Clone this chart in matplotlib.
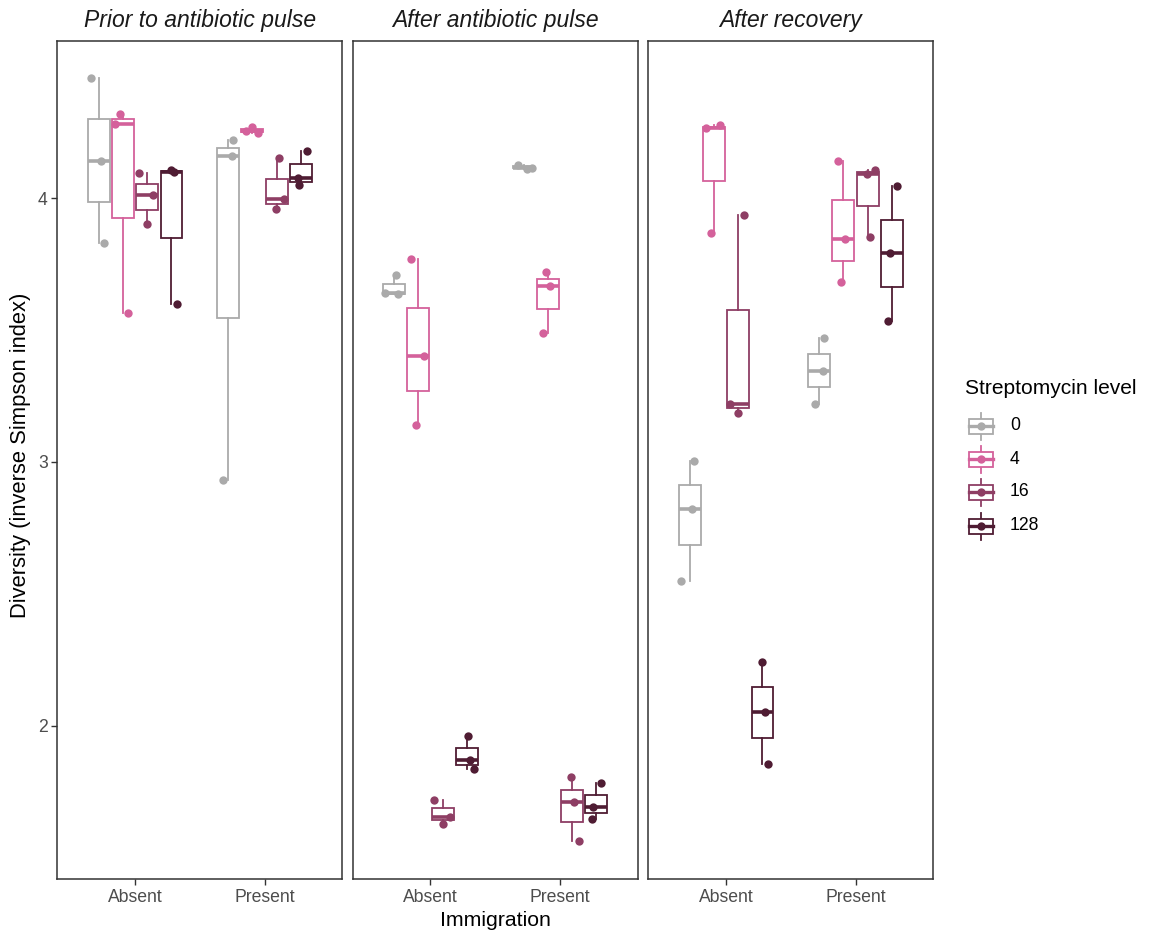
import matplotlib
matplotlib.use("Agg")
import matplotlib.pyplot as plt
from matplotlib.patches import Rectangle
from matplotlib.lines import Line2D
import numpy as np

plt.rcParams['font.family'] = ['Liberation Sans', 'DejaVu Sans']

panels = ["Prior to antibiotic pulse", "After antibiotic pulse", "After recovery"]
immigration = ["Absent", "Present"]
levels = ["0", "4", "16", "128"]
colors = ["#AAAAAA", "#D4619B", "#8E3E64", "#4F1C33"]

# values per panel: [immigration][level] -> 3 replicates
prior_absent = [[4.455, 4.14, 3.83], [4.32, 4.28, 3.565], [4.095, 4.01, 3.90], [4.105, 4.10, 3.60]]
prior_present = [[4.22, 4.16, 2.93], [4.255, 4.27, 4.245], [4.15, 3.996, 3.96], [4.18, 4.075, 4.05]]
pulse_absent = [[3.71, 3.64, 3.635], [3.77, 3.40, 3.14], [1.72, 1.655, 1.63], [1.96, 1.87, 1.837]]
pulse_present = [[4.125, 4.11, 4.115], [3.72, 3.667, 3.49], [1.807, 1.71, 1.565], [1.784, 1.694, 1.648]]
recov_absent = [[3.004, 2.822, 2.55], [4.265, 4.275, 3.867], [3.935, 3.22, 3.186], [2.242, 2.053, 1.856]]
recov_present = [[3.47, 3.345, 3.22], [4.14, 3.845, 3.68], [4.106, 4.09, 3.853], [4.045, 3.79, 3.535]]

# horizontal jitter of the points
prior_absent_jit = [[-8, 2, 5], [-3, -8, 5], [-8, 6, 0], [0, 3, 6]]
prior_present_jit = [[5, 4, -5], [-6, 0, 6], [2, 7, -1], [6, -3, -2]]
pulse_absent_jit = [[2, -9, 4], [-7, 6, -2], [-9, 7, 0], [1, 3, 7]]
pulse_present_jit = [[-6, 3, 8], [-2, 2, -5], [-1, 2, 7], [5, -3, -4]]
recov_absent_jit = [[4, 2, -9], [-8, 6, -3], [6, -8, 0], [0, 3, 6]]
recov_present_jit = [[5, 4, -4], [-5, 2, -2], [7, -1, 2], [5, -2, -4]]

data = [[prior_absent, prior_present], [pulse_absent, pulse_present], [recov_absent, recov_present]]
jit = [[prior_absent_jit, prior_present_jit], [pulse_absent_jit, pulse_present_jit],
       [recov_absent_jit, recov_present_jit]]

W, H = 1151, 934
fig = plt.figure(figsize=(W / 100, H / 100), dpi=100)

left_px = [57.3, 352.7, 648.3]
pw = 285.0
top_px, bot_px = 40.7, 879.0

dodge = 0.75
nlev = len(levels)
boxw = dodge / nlev * 0.9
px_per_unit = pw / 2.2

axes = []
for p in range(3):
    ax = fig.add_axes([left_px[p] / W, (H - bot_px) / H, pw / W, (bot_px - top_px) / H])
    axes.append(ax)
    for i in range(2):
        for l in range(nlev):
            vals = np.array(data[p][i][l])
            pos = (i + 1) + (l - (nlev - 1) / 2) * dodge / nlev
            c = colors[l]
            ax.boxplot([vals], positions=[pos], widths=boxw, whis=(0, 100), patch_artist=True,
                       manage_ticks=False, showfliers=False,
                       boxprops=dict(facecolor="white", edgecolor=c, linewidth=1.3),
                       whiskerprops=dict(color=c, linewidth=1.3),
                       capprops=dict(linewidth=0),
                       medianprops=dict(color=c, linewidth=2.6, solid_capstyle="butt"))
            xs = pos + np.array(jit[p][i][l]) / px_per_unit
            ax.scatter(xs, vals, s=36, color=c, zorder=5, linewidths=0)
    ax.set_xlim(0.4, 2.6)
    ax.set_ylim(1.42, 4.596)
    ax.set_xticks([1, 2])
    ax.set_xticklabels(immigration, fontsize=12.7, color="#4D4D4D")
    ax.set_yticks([2, 3, 4])
    ax.set_yticklabels(["2", "3", "4"], fontsize=12.7, color="#4D4D4D")
    ax.tick_params(axis="both", length=4, width=1, color="#333333", pad=3)
    if p > 0:
        ax.tick_params(axis="y", left=False, labelleft=False)
    for s in ax.spines.values():
        s.set_color("#333333")
        s.set_linewidth(1.1)
    fig.text((left_px[p] + pw / 2) / W, 1 - 21 / H, panels[p], ha="center", va="center",
             fontsize=16.5, style="italic", color="#1A1A1A")

fig.text(495 / W, 1 - 921 / H, "Immigration", ha="center", va="center", fontsize=15.3, color="black")
fig.text(21 / W, 1 - 455 / H, "Diversity (inverse Simpson index)", ha="center", va="center",
         rotation=90, fontsize=15.8, color="black")

# legend
lax = fig.add_axes([0, 0, 1, 1], facecolor="none")
lax.set_xlim(0, W)
lax.set_ylim(H, 0)
lax.axis("off")
lax.text(965, 389, "Streptomycin level", ha="left", va="center", fontsize=15.1)
key_y = [426, 459, 492, 526]
for l in range(nlev):
    c = colors[l]
    y = key_y[l]
    lax.add_line(Line2D([981, 981], [y - 13, y + 14], color=c, lw=1.3))
    lax.add_patch(Rectangle((969, y - 7.5), 24, 15, facecolor="white", edgecolor=c, lw=1.3, zorder=3))
    lax.add_line(Line2D([969, 993], [y, y], color=c, lw=2.4, zorder=4))
    lax.scatter([981], [y], s=36, color=c, zorder=5, linewidths=0)
    lax.text(1010, y, levels[l], ha="left", va="center", fontsize=12.7)

fig.savefig("out.png", dpi=100)
